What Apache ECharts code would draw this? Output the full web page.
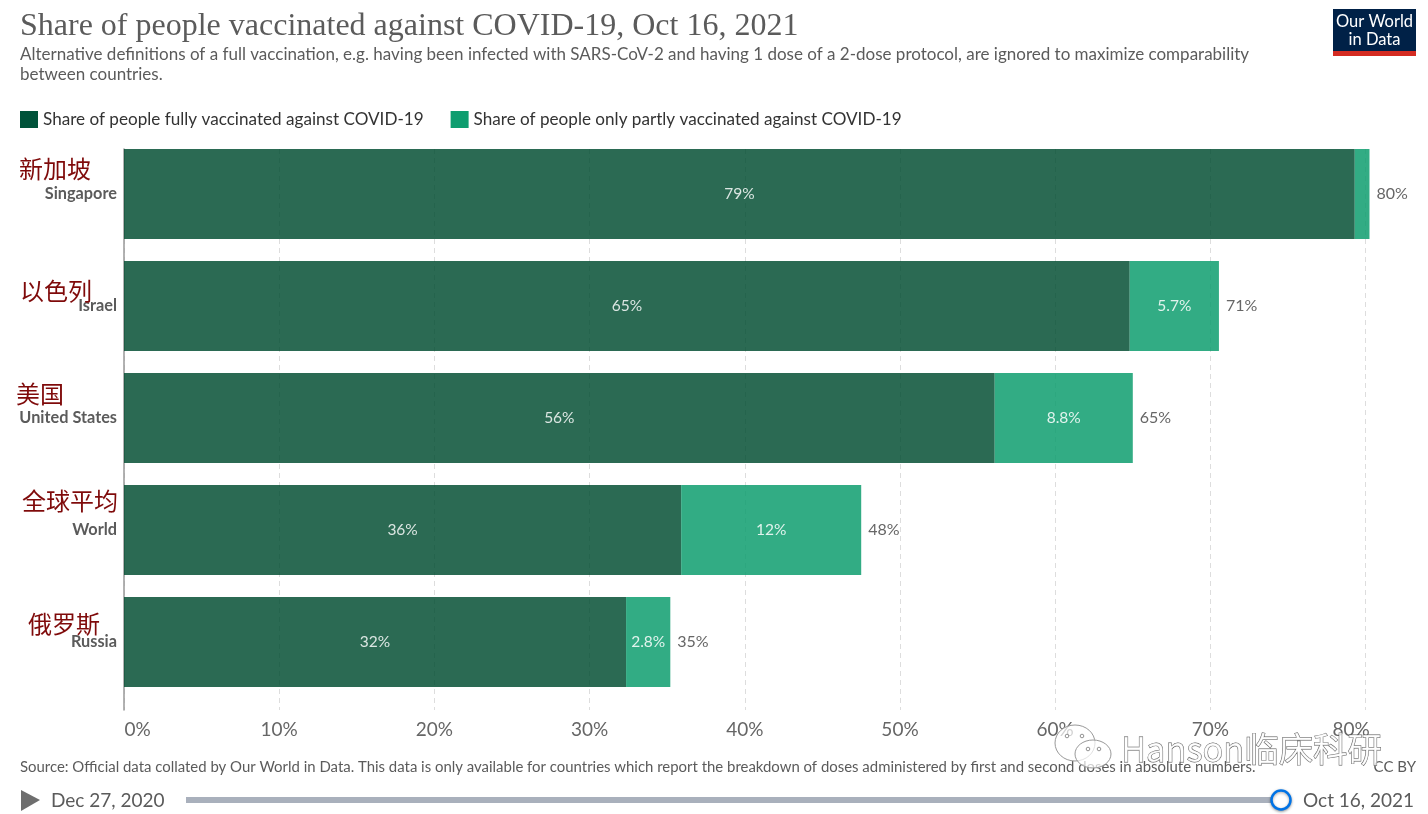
<!DOCTYPE html>
<html>
<head>
<meta charset="utf-8">
<title>Share of people vaccinated against COVID-19</title>
<script src="https://cdn.jsdelivr.net/npm/echarts@6/dist/echarts.min.js"></script>
<style>
html,body{margin:0;padding:0;background:#fff;}
#chart{width:1428px;height:814px;}
</style>
</head>
<body>
<div id="chart"></div>
<script>
// data
var countries = ['Singapore', 'Israel', 'United States', 'World', 'Russia'];
var countriesCn = ['新加坡', '以色列', '美国', '全球平均', '俄罗斯'];
var fullyVaccinated = [79.3, 64.8, 56.1, 35.9, 32.35];
var partlyVaccinated = [0.95, 5.75, 8.9, 11.6, 2.85];
var zeroTotals = [0, 0, 0, 0, 0];
var fullLabels = ['79%', '65%', '56%', '36%', '32%'];
var partLabels = ['', '5.7%', '8.8%', '12%', '2.8%'];
var totalLabels = ['80%', '71%', '65%', '48%', '35%'];
var tickValues = [0, 10, 20, 30, 40, 50, 60, 70, 80];
var fullName = 'Share of people fully vaccinated against COVID-19';
var partName = 'Share of people only partly vaccinated against COVID-19';

var GREY = '#5b5b5b';
var LATO = 'Lato, sans-serif';
var X_MAX = 82;
var PX_PER_UNIT = 15.52;

// 中文标注是后加上去的，位置各不相同
var cnPos = [[19, 169], [20, 291], [16, 394], [22, 501], [28, 624]];

function txt(x, y, text, size, color, extra){
    return {
        type: 'text', x: x, y: y, z: 50,
        style: Object.assign({
            text: text, font: size + 'px ' + LATO, fill: color,
            verticalAlign: 'middle', align: 'left'
        }, extra || {})
    };
}

function wechatBubble(cx, cy, rx, ry){
    return {
        type: 'ellipse', z: 60,
        shape: {cx: cx, cy: cy, rx: rx, ry: ry},
        style: {fill: 'rgba(255,255,255,0.7)', stroke: '#999', lineWidth: 1}
    };
}
function dot(cx, cy){
    return {type: 'circle', z: 61, shape: {cx: cx, cy: cy, r: 1.8},
        style: {fill: '#fff', stroke: '#777', lineWidth: 0.8}};
}

var graphics = [];
countriesCn.forEach(function(name, i){
    graphics.push({
        type: 'text', x: cnPos[i][0], y: cnPos[i][1], z: 50,
        style: {text: name, font: '24px "Noto Sans CJK SC"', fill: '#7f0a0a', verticalAlign: 'middle'}
    });
});

// logo
graphics.push({type: 'rect', z: 50, shape: {x: 1333, y: 9, width: 83, height: 42}, style: {fill: '#002147'}});
graphics.push({type: 'rect', z: 50, shape: {x: 1333, y: 51, width: 83, height: 5}, style: {fill: '#d42b21'}});
graphics.push(txt(1374.5, 22, 'Our World', 16.5, '#fff', {align: 'center'}));
graphics.push(txt(1374.5, 40, 'in Data', 16.5, '#fff', {align: 'center'}));

// footer
graphics.push(txt(20, 767, 'Source: Official data collated by Our World in Data. This data is only available for countries which report the breakdown of doses administered by first and second doses in absolute numbers.', 14.93, GREY));
graphics.push(txt(1416, 767, 'CC BY', 15, GREY, {align: 'right'}));

// timeline
graphics.push({type: 'polygon', z: 50, shape: {points: [[21, 790], [40, 800], [21, 811]]}, style: {fill: '#6e6e6e'}});
graphics.push(txt(51, 801, 'Dec 27, 2020', 19, GREY));
graphics.push({type: 'rect', z: 50, shape: {x: 186, y: 797, width: 1095, height: 6}, style: {fill: '#a9b0bc'}});
graphics.push({
    type: 'circle', z: 51, shape: {cx: 1281, cy: 800, r: 9.5},
    style: {fill: '#fff', stroke: '#0073e6', lineWidth: 2.5, shadowBlur: 3, shadowColor: 'rgba(0,0,0,0.35)', shadowOffsetY: 1}
});
graphics.push(txt(1303, 801, 'Oct 16, 2021', 19, GREY));

// watermark
graphics.push(wechatBubble(1075, 743, 20, 18));
graphics.push(dot(1067, 736), dot(1082, 736));
graphics.push(wechatBubble(1093, 754, 18, 14));
graphics.push(dot(1088, 749), dot(1099, 749));
graphics.push({
    type: 'text', x: 1121, y: 749, z: 62,
    style: {
        text: 'Hanson临床科研', font: '34.4px "Noto Sans CJK SC"',
        fill: 'rgba(255,255,255,0.8)', stroke: '#555', lineWidth: 0.9,
        verticalAlign: 'middle'
    }
});

var myChart = echarts.init(document.getElementById('chart'));

var option = {
    animation: false,
    backgroundColor: '#fff',
    title: [
        {
            text: 'Share of people vaccinated against COVID-19, Oct 16, 2021',
            left: 20, top: 11, padding: 0,
            textStyle: {fontFamily: '"Liberation Serif", serif', fontSize: 32, fontWeight: 'normal', color: '#5b5b5b'}
        },
        {
            text: 'Alternative definitions of a full vaccination, e.g. having been infected with SARS-CoV-2 and having 1 dose of a 2-dose protocol, are ignored to maximize comparability\nbetween countries.',
            left: 20, top: 45, padding: 0,
            textStyle: {fontFamily: LATO, fontSize: 17, fontWeight: 'normal', color: GREY, lineHeight: 20}
        }
    ],
    legend: {
        left: 20, top: 111, padding: 0,
        data: [
            {name: fullName, itemStyle: {color: '#00533a', opacity: 1}},
            {name: partName, itemStyle: {color: '#0e9d6f', opacity: 1}}
        ],
        icon: 'rect',
        itemWidth: 18, itemHeight: 17, itemGap: 27,
        selectedMode: false,
        textStyle: {fontFamily: LATO, fontSize: 17.12, color: '#333'}
    },
    // grid 0 carries the axis and gridlines, which run past the last band
    // grid 1 carries the bars
    grid: [
        {left: 124, width: X_MAX * PX_PER_UNIT, top: 149, height: 561},
        {left: 124, width: X_MAX * PX_PER_UNIT, top: 138, height: 560}
    ],
    xAxis: [
        {
            type: 'value', gridIndex: 0, min: 0, max: X_MAX,
            axisLine: {show: false},
            axisTick: {show: false, customValues: tickValues},
            splitLine: {show: true, lineStyle: {color: '#dddddd', type: [5, 4], width: 1}},
            axisLabel: {
                customValues: tickValues,
                margin: 10,
                formatter: function(v){
                    if(v === 0) return '{first|0%}';
                    if(v === 80) return '{last|80%}';
                    return '{n|' + v + '%}';
                },
                rich: {
                    n: {fontFamily: LATO, fontSize: 19, color: '#666'},
                    first: {fontFamily: LATO, fontSize: 19, color: '#666', padding: [0, 0, 0, 27]},
                    last: {fontFamily: LATO, fontSize: 19, color: '#666', padding: [0, 29, 0, 0]}
                }
            }
        },
        {
            type: 'value', gridIndex: 1, min: 0, max: X_MAX, show: false
        }
    ],
    yAxis: [
        {
            type: 'category', gridIndex: 0, data: countries, inverse: true,
            axisLine: {show: true, lineStyle: {color: '#999', width: 1.5}},
            axisTick: {show: false}, axisLabel: {show: false}, splitLine: {show: false}
        },
        {
            type: 'category', gridIndex: 1, data: countries, inverse: true,
            axisLine: {show: false}, axisTick: {show: false},
            axisLabel: {margin: 7, fontFamily: LATO, fontSize: 16.3, fontWeight: 'bold', color: GREY}
        }
    ],
    series: [
        {
            name: fullName, type: 'bar', stack: 'share', xAxisIndex: 1, yAxisIndex: 1,
            barWidth: 90, data: fullyVaccinated, color: '#004c30',
            itemStyle: {opacity: 0.83},
            label: {
                show: true, position: 'inside', color: '#fff', fontFamily: LATO, fontSize: 15.5,
                formatter: function(p){ return fullLabels[p.dataIndex]; }
            }
        },
        {
            name: partName, type: 'bar', stack: 'share', xAxisIndex: 1, yAxisIndex: 1,
            barWidth: 90, data: partlyVaccinated, color: '#0e9d6f',
            itemStyle: {opacity: 0.85},
            label: {
                show: true, position: 'inside', color: '#fff', fontFamily: LATO, fontSize: 15.5,
                formatter: function(p){ return partLabels[p.dataIndex]; }
            }
        },
        {
            name: 'total', type: 'bar', stack: 'share', xAxisIndex: 1, yAxisIndex: 1,
            barWidth: 90, data: zeroTotals, silent: true,
            itemStyle: {color: 'transparent'},
            label: {
                show: true, position: 'right', distance: 7, color: '#666', fontFamily: LATO, fontSize: 16,
                formatter: function(p){ return totalLabels[p.dataIndex]; }
            }
        }
    ],
    graphic: graphics
};

myChart.setOption(option);
</script>
</body>
</html>
